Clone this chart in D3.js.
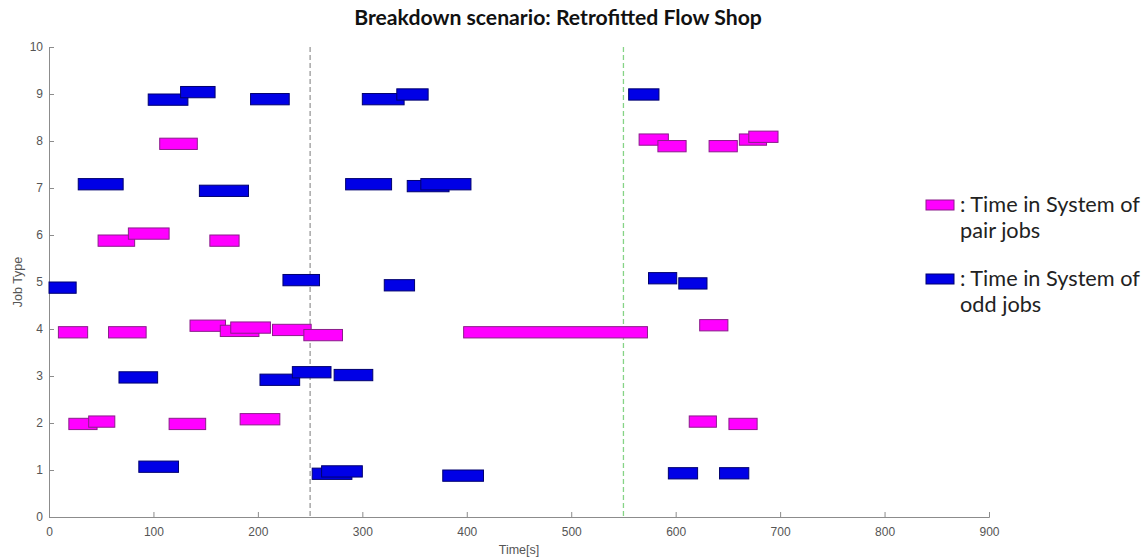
<!DOCTYPE html>
<html lang="en">
<head>
<meta charset="UTF-8">
<script src="https://cdn.jsdelivr.net/npm/d3@7/dist/d3.min.js"></script>
<title>Breakdown scenario</title>
<style>
  body { margin: 0; background: #fff; }
  .tick text { font-family: "Liberation Sans", Arial, sans-serif; font-size: 12px; fill: #555; }
</style>
</head>
<body>
<script>
    // pair jobs (magenta): start, end, level
    const pairStart = [106, 47, 76, 154, 9, 57, 135, 164, 174, 214, 244, 19, 38, 115, 183, 397, 565, 583, 632, 661, 670, 623, 613, 651]
    const pairEnd   = [142, 82, 115, 182, 37, 93, 169, 201, 212, 251, 281, 46, 63, 150, 221, 573, 593, 610, 659, 687, 698, 650, 639, 678]
    const pairLevel = [7.94, 5.88, 6.03, 5.88, 3.93, 3.93, 4.07, 3.96, 4.03, 3.98, 3.87, 1.98, 2.03, 1.98, 2.08, 3.93, 8.03, 7.89, 7.89, 8.03, 8.09, 4.08, 2.03, 1.98]

    // odd jobs (blue)
    const oddStart = [95, 126, 193, 28, 144, 224, 0, 67, 202, 233, 273, 86, 252, 261, 300, 333, 284, 343, 356, 555, 321, 377, 574, 603, 593, 642]
    const oddEnd   = [133, 159, 230, 71, 191, 259, 26, 104, 240, 270, 310, 124, 290, 300, 340, 363, 328, 383, 404, 584, 350, 416, 601, 630, 621, 670]
    const oddLevel = [8.88, 9.04, 8.89, 7.08, 6.94, 5.04, 4.88, 2.97, 2.92, 3.08, 3.02, 1.07, 0.92, 0.97, 8.89, 8.99, 7.08, 7.04, 7.08, 8.99, 4.93, 0.88, 5.08, 4.97, 0.93, 0.93]

    // breakdown markers
    const breakTimes = [250, 550]
    const breakColors = ["#999999", "#86d486"]

    const xTicks = [0, 100, 200, 300, 400, 500, 600, 700, 800, 900]
    const yTicks = [0, 1, 2, 3, 4, 5, 6, 7, 8, 9, 10]

    const width = 1148, height = 558
    const margin = {left: 49, right: 159, top: 47, bottom: 41}
    const barH = 0.24

    const svg = d3.select("body").append("svg").attr("width", width).attr("height", height)

    const xScale = d3.scaleLinear().domain([0, 900]).range([margin.left, width - margin.right])
    const yScale = d3.scaleLinear().domain([0, 10]).range([height - margin.bottom, margin.top])

    // axes (matlab style, ticks inward)
    const xAxis = d3.axisBottom(xScale).tickValues(xTicks).tickSize(-5).tickPadding(10)
    const yAxis = d3.axisLeft(yScale).tickValues(yTicks).tickSize(-5).tickPadding(6)

    svg.append("g").attr("transform", `translate(0,${height - margin.bottom})`).call(xAxis)
    svg.append("g").attr("transform", `translate(${margin.left},0)`).call(yAxis)
    svg.selectAll(".domain, .tick line").attr("stroke", "#8c8c8c")

    // dashed breakdown lines
    svg.selectAll(".brk")
        .data(breakTimes)
        .enter()
        .append("line")
        .attr("class", "brk")
        .attr("x1", d => xScale(d)).attr("x2", d => xScale(d))
        .attr("y1", yScale(10)).attr("y2", yScale(0))
        .attr("stroke", (d, i) => breakColors[i])
        .attr("stroke-width", 1.3)
        .attr("stroke-dasharray", "5,3")

    const pairs = pairStart.map((s, i) => ({s: s, e: pairEnd[i], y: pairLevel[i]}))
    const odds  = oddStart.map((s, i) => ({s: s, e: oddEnd[i], y: oddLevel[i]}))

    function drawBars(data, fill, stroke) {
        svg.append("g").selectAll("rect")
            .data(data)
            .enter()
            .append("rect")
            .attr("x", d => xScale(d.s))
            .attr("y", d => yScale(d.y + barH / 2))
            .attr("width", d => xScale(d.e) - xScale(d.s))
            .attr("height", yScale(0) - yScale(barH))
            .attr("fill", fill)
            .attr("stroke", stroke)
            .attr("stroke-width", 1)
    }
    drawBars(odds, "#0000e6", "#00006e")
    drawBars(pairs, "#ff00ff", "#8a1d8a")

    // scale a text's font so it takes the given width
    function fit(sel, target) {
        const w = sel.node().getComputedTextLength()
        const fs = parseFloat(sel.style("font-size"))
        const size = fs * target / w
        sel.style("font-size", size + "px")
        return size
    }

    // title
    const title = svg.append("text")
        .attr("x", 558).attr("y", 25)
        .attr("text-anchor", "middle")
        .style("font-family", "Lato, 'Open Sans', sans-serif")
        .style("font-weight", "bold")
        .style("font-size", "17px")
        .attr("fill", "#111")
        .text("Breakdown scenario: Retrofitted Flow Shop")
    fit(title, 408)

    // axis labels
    svg.append("text")
        .attr("x", xScale(450)).attr("y", 554)
        .attr("text-anchor", "middle")
        .style("font-family", "'Liberation Sans', Arial, sans-serif")
        .style("font-size", "12.5px")
        .attr("fill", "#555")
        .text("Time[s]")

    svg.append("text")
        .attr("transform", `translate(22,${yScale(5)}) rotate(-90)`)
        .attr("text-anchor", "middle")
        .style("font-family", "'Liberation Sans', Arial, sans-serif")
        .style("font-size", "12.5px")
        .attr("fill", "#555")
        .text("Job Type")

    // legend
    const legendColors  = ["#ff00ff", "#0000e6"]
    const legendStrokes = ["#8a1d8a", "#00006e"]
    const legendText    = [[": Time in System of", "pair jobs"], [": Time in System of", "odd jobs"]]
    const legendY = [205, 279]

    legendText.forEach((lines, i) => {
        svg.append("rect")
            .attr("x", 926).attr("y", legendY[i] - 5)
            .attr("width", 28).attr("height", 10)
            .attr("fill", legendColors[i]).attr("stroke", legendStrokes[i])
        let size = 19
        lines.forEach((t, j) => {
            const tx = svg.append("text")
                .attr("x", 960).attr("y", legendY[i] + 7 + j * 26)
                .style("font-family", "Lato, 'Open Sans', sans-serif")
                .style("font-size", size + "px")
                .attr("fill", "#222")
                .text(t)
            if (j === 0) size = fit(tx, 180)
        })
    })
</script>
</body>
</html>
